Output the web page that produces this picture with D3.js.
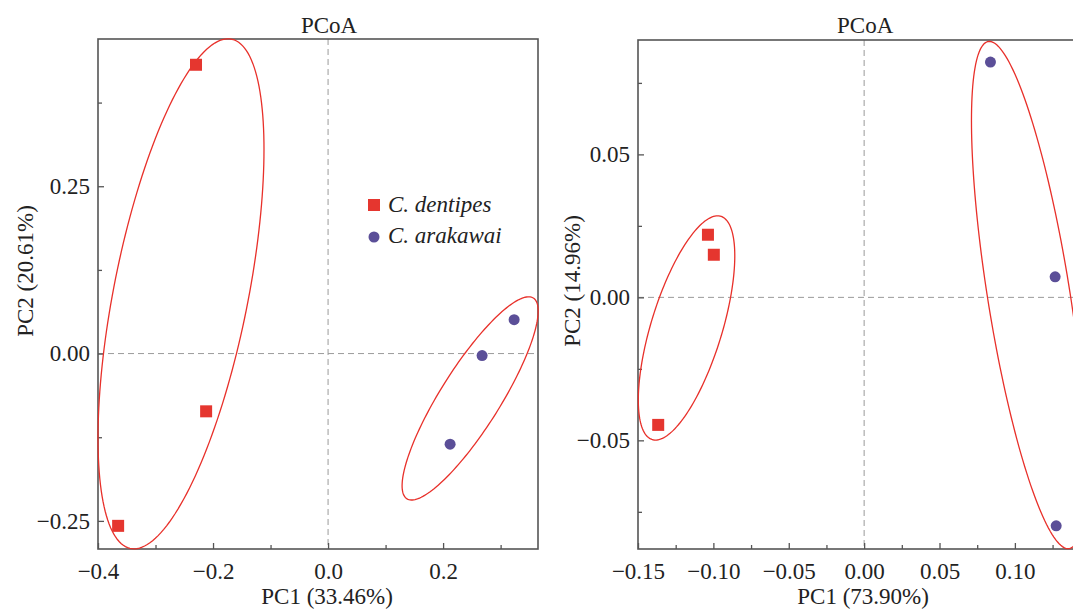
<html>
<head>
  <meta charset="utf-8">
  <script src="https://d3js.org/d3.v7.min.js"></script>
  <style>
  body { margin: 0; background: #fff; }
  text { font-family: "Liberation Serif", "Times New Roman", serif; fill: #222; }
  .axis text { font-size: 23px; }
  .axis path { display: none; }
  .axis line { stroke: #555; stroke-width: 1.3px; }
  .zero { stroke: #9a9a9a; stroke-width: 1px; stroke-dasharray: 6,4; }
  .ell { fill: none; stroke: #e8302a; stroke-width: 1.3px; }
  </style>
</head>
<body>
  <svg id="chart" width="1073" height="610"></svg>
  <script>

  // left panel (PC1 33.46%, PC2 20.61%)
  const dentipesL = [[-0.2296, 0.4315], [-0.212, -0.0863], [-0.365, -0.2574]];
  const arakawaiL = [[0.3235, 0.0506], [0.2678, -0.003], [0.2122, -0.1354]];
  // ellipses: cx, cy, rx, ry, phase (deg)
  const ellipsesL = [[-0.2557, 0.0893, 0.1443, 0.381, 55.5], [0.247, -0.067, 0.1183, 0.1518, 30.7]];
  const xTicksL = [-0.4, -0.2, 0.0, 0.2];
  const xMinorL = [-0.3, -0.1, 0.1, 0.3];
  const yTicksL = [-0.25, 0.0, 0.25];
  const yMinorL = [-0.125, 0.125, 0.375];

  // right panel (PC1 73.90%, PC2 14.96%)
  const dentipesR = [[-0.1036, 0.0219], [-0.0997, 0.0149], [-0.1366, -0.0446]];
  const arakawaiR = [[0.0838, 0.0823], [0.1267, 0.0072], [0.1274, -0.0799]];
  const ellipsesR = [[-0.1178, -0.0107, 0.032, 0.0392, 50], [0.1092, 0.0008, 0.038, 0.0887, 133.4]];
  const xTicksR = [-0.15, -0.10, -0.05, 0.0, 0.05, 0.10];
  const xMinorR = [-0.125, -0.075, -0.025, 0.025, 0.075, 0.125];
  const yTicksR = [-0.05, 0.0, 0.05];
  const yMinorR = [-0.075, -0.025, 0.025, 0.075];

  const svg = d3.select("#chart");
  const red = "#e5362f";
  const purple = "#5b4f98";

  function panel(opt) {
    const x = d3.scaleLinear().domain(opt.xDomain).range([opt.left, opt.right]);
    const y = d3.scaleLinear().domain(opt.yDomain).range([opt.bottom, opt.top]);
    const g = svg.append("g");

    g.append("clipPath").attr("id", opt.id)
      .append("rect")
      .attr("x", opt.left - 1).attr("y", opt.top - 1)
      .attr("width", opt.right - opt.left + 2).attr("height", opt.bottom - opt.top + 2);

    // zero lines
    g.append("line").attr("class", "zero")
      .attr("x1", x(0)).attr("x2", x(0)).attr("y1", opt.top).attr("y2", opt.bottom);
    g.append("line").attr("class", "zero")
      .attr("x1", opt.left).attr("x2", opt.right).attr("y1", y(0)).attr("y2", y(0));

    // axes, ticks inward
    g.append("g").attr("class", "axis")
      .attr("transform", "translate(0," + opt.bottom + ")")
      .call(d3.axisBottom(x).tickValues(opt.xTicks).tickFormat(d3.format(opt.xFmt))
        .tickSize(-6).tickPadding(13.5));
    g.append("g").attr("class", "axis")
      .attr("transform", "translate(0," + opt.bottom + ")")
      .call(d3.axisBottom(x).tickValues(opt.xMinor).tickFormat("").tickSize(-4));
    g.append("g").attr("class", "axis")
      .attr("transform", "translate(" + opt.left + ",0)")
      .call(d3.axisLeft(y).tickValues(opt.yTicks).tickFormat(d3.format(".2f"))
        .tickSize(-6).tickPadding(8));
    g.append("g").attr("class", "axis")
      .attr("transform", "translate(" + opt.left + ",0)")
      .call(d3.axisLeft(y).tickValues(opt.yMinor).tickFormat("").tickSize(-4));

    // frame
    g.append("rect")
      .attr("x", opt.left).attr("y", opt.top)
      .attr("width", opt.right - opt.left).attr("height", opt.bottom - opt.top)
      .attr("fill", "none").attr("stroke", "#555").attr("stroke-width", 1.6);

    // ellipses
    const line = d3.line().x(d => x(d[0])).y(d => y(d[1])).curve(d3.curveLinearClosed);
    opt.ellipses.forEach(e => {
      const ph = e[4] * Math.PI / 180;
      const pts = d3.range(0, 2 * Math.PI, Math.PI / 90)
        .map(t => [e[0] + e[2] * Math.cos(t), e[1] + e[3] * Math.cos(t - ph)]);
      g.append("path").attr("class", "ell").attr("clip-path", "url(#" + opt.id + ")").attr("d", line(pts));
    });

    // points
    g.selectAll("rect.sq").data(opt.squares).join("rect")
      .attr("class", "sq")
      .attr("x", d => x(d[0]) - 6).attr("y", d => y(d[1]) - 6)
      .attr("width", 12).attr("height", 12)
      .attr("fill", red);
    g.selectAll("circle.dot").data(opt.dots).join("circle")
      .attr("class", "dot")
      .attr("cx", d => x(d[0])).attr("cy", d => y(d[1]))
      .attr("r", 5.5)
      .attr("fill", purple);

    // labels
    g.append("text").attr("x", x(0) + 1).attr("y", 33)
      .attr("text-anchor", "middle").style("font-size", "23px").text("PCoA");
    g.append("text").attr("x", x(0) - 1).attr("y", 604)
      .attr("text-anchor", "middle").style("font-size", "23px").text(opt.xLabel);
    g.append("text")
      .attr("transform", "translate(" + opt.yLabelX + "," + opt.yLabelY + ") rotate(-90)")
      .attr("text-anchor", "middle").style("font-size", "23px").text(opt.yLabel);

    return { x: x, y: y };
  }

  panel({
    id: "clipL", left: 98, right: 538, top: 39, bottom: 549,
    xDomain: [-0.4, 0.365], yDomain: [-0.292, 0.47],
    xTicks: xTicksL, xMinor: xMinorL, yTicks: yTicksL, yMinor: yMinorL, xFmt: ".1f",
    ellipses: ellipsesL, squares: dentipesL, dots: arakawaiL,
    xLabel: "PC1 (33.46%)", yLabel: "PC2 (20.61%)", yLabelX: 33, yLabelY: 271
  });

  panel({
    id: "clipR", left: 638, right: 1088, top: 40, bottom: 549,
    xDomain: [-0.15, 0.1485], yDomain: [-0.088, 0.09],
    xTicks: xTicksR, xMinor: xMinorR, yTicks: yTicksR, yMinor: yMinorR, xFmt: ".2f",
    ellipses: ellipsesR, squares: dentipesR, dots: arakawaiR,
    xLabel: "PC1 (73.90%)", yLabel: "PC2 (14.96%)", yLabelX: 580, yLabelY: 281
  });

  // legend
  const legend = svg.append("g").attr("transform", "translate(374,0)");
  legend.append("rect").attr("x", -6).attr("y", 199).attr("width", 12).attr("height", 12).attr("fill", red);
  legend.append("circle").attr("cx", 0).attr("cy", 237).attr("r", 5.5).attr("fill", purple);
  legend.append("text").attr("x", 14).attr("y", 212)
    .style("font-size", "23px").style("font-style", "italic").text("C. dentipes");
  legend.append("text").attr("x", 14).attr("y", 243)
    .style("font-size", "23px").style("font-style", "italic").text("C. arakawai");

  </script>
</body>
</html>
